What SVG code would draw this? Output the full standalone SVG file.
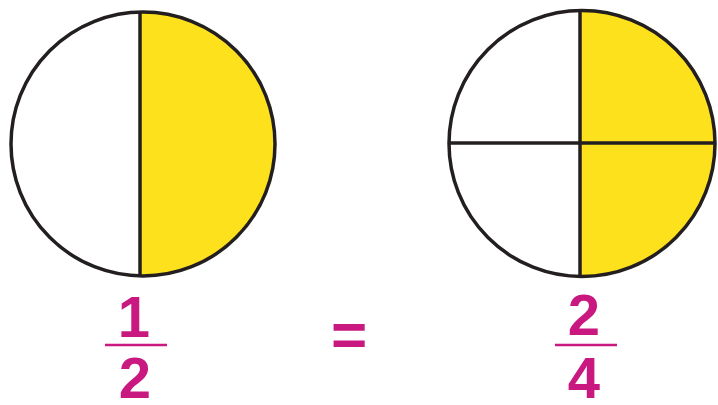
<svg xmlns="http://www.w3.org/2000/svg" width="718" height="405" viewBox="0 0 718 405">
<style>
.ring{fill:none;stroke:#231f20;stroke-width:3.5}
.div{stroke:#231f20;stroke-width:3.5}
.fill{fill:#fde11c}
.num{font-family:"Liberation Sans",Arial,sans-serif;font-weight:bold;font-size:58px;fill:#c9187f;text-anchor:middle}
.bar{stroke:#c9187f;stroke-width:2.5}
</style>
<defs>
<clipPath id="cl"><circle cx="143" cy="144" r="132"/></clipPath>
<clipPath id="cr"><circle cx="582" cy="143.5" r="133"/></clipPath>
</defs>
<rect width="718" height="405" fill="#ffffff"/>
<g id="half-circle">
<rect class="fill" x="140" y="0" width="150" height="290" clip-path="url(#cl)"/>
<circle class="ring" cx="143" cy="144" r="132"/>
<line class="div" x1="140" y1="12" x2="140" y2="276"/>
</g>
<g id="quarter-circle">
<rect class="fill" x="580" y="0" width="150" height="290" clip-path="url(#cr)"/>
<circle class="ring" cx="582" cy="143.5" r="133"/>
<line class="div" x1="580" y1="11" x2="580" y2="276"/>
<line class="div" x1="449" y1="143" x2="715" y2="143"/>
</g>
<g id="fraction-1-2">
<text class="num" x="134" y="337">1</text>
<line class="bar" x1="105" y1="345" x2="167" y2="345"/>
<text class="num" x="135" y="398">2</text>
</g>
<g id="equals">
<text class="num" x="349" y="356" style="font-size:62px">=</text>
</g>
<g id="fraction-2-4">
<text class="num" x="584" y="335">2</text>
<line class="bar" x1="555" y1="345" x2="617" y2="345"/>
<text class="num" x="584" y="398">4</text>
</g>
</svg>
